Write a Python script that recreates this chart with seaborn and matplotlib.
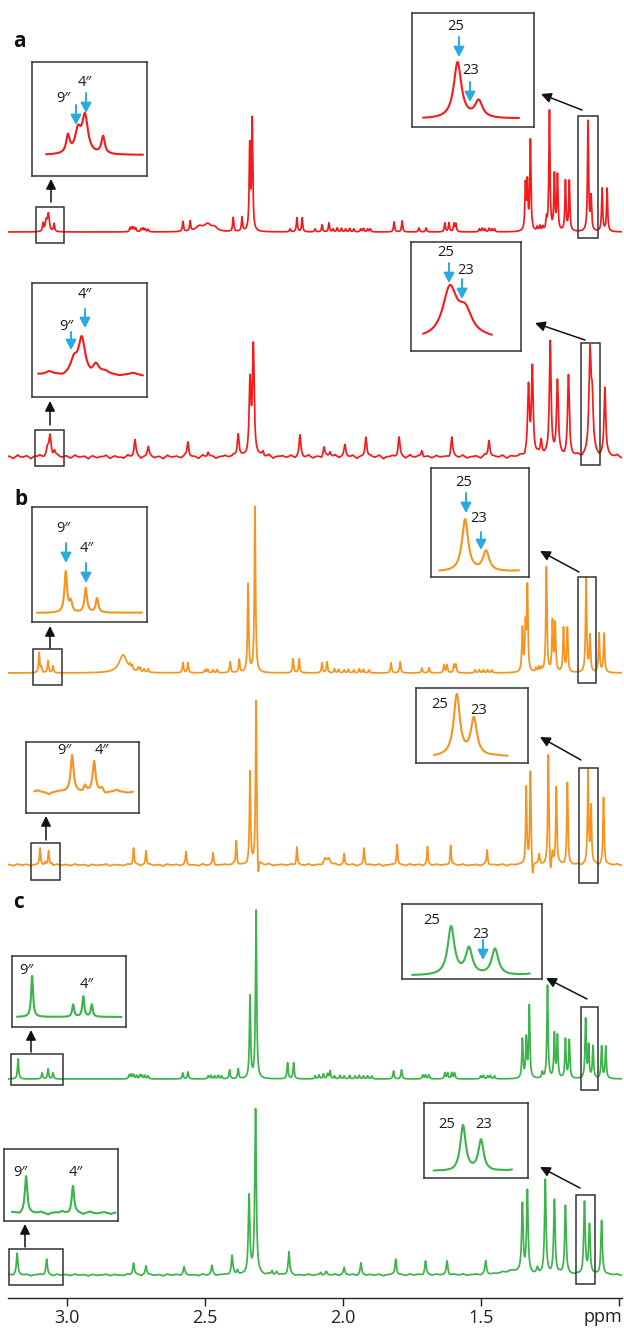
import numpy as np
import matplotlib
matplotlib.use("Agg")
import matplotlib.pyplot as plt
from matplotlib.patches import Rectangle
import seaborn as sns

sns.set_style("white")
plt.rcParams["font.family"] = ["Open Sans", "DejaVu Sans"]

W, H = 624, 1330

# ------------------------------------------------------------------ data
# peak lists: chemical shift (ppm) and intensity (arbitrary units)
a1_ppm = [3.086, 3.046,
          2.771, 2.764, 2.757, 2.750, 2.731, 2.724, 2.716, 2.705,
          2.579, 2.553, 2.397, 2.365, 2.337, 2.328,
          2.191, 2.166, 2.147, 2.100, 2.075, 2.050,
          2.035, 2.020, 2.005, 1.990, 1.975, 1.960, 1.935, 1.925, 1.910, 1.900,
          1.814, 1.785, 1.724, 1.698, 1.630, 1.615, 1.597, 1.590,
          1.505, 1.495, 1.485, 1.470, 1.460, 1.450,
          1.338, 1.331, 1.320, 1.295, 1.285, 1.275, 1.262, 1.251,
          1.233, 1.222, 1.193, 1.179, 1.111, 1.100, 1.060, 1.042]
a1_int = [8, 8,
          4, 4.5, 4, 3.5, 3, 3.5, 3, 2.5,
          10, 10, 14, 14, 84, 110,
          3, 14, 14, 3, 7, 9,
          3, 4, 3.5, 3, 3.5, 3, 3, 3.5, 3, 3,
          10, 11, 4, 4, 9, 9, 8, 8,
          3, 3.5, 3, 3.5, 3, 3,
          45, 46, 90, 4, 5, 4, 11, 120,
          55, 55, 50, 50, 110, 33, 43, 43]
a1_broad_ppm = [3.0746, 3.0666, 2.520, 2.490, 2.465]
a1_broad_int = [10, 17, 5, 7, 4]
a1_broad_fwhm = [0.008, 0.008, 0.03, 0.03, 0.025]

a2_ppm = [2.753, 2.705, 2.561, 2.488, 2.379, 2.336, 2.324, 2.289, 2.155, 2.068,
          2.046, 1.992, 1.916, 1.796, 1.713, 1.605, 1.470,
          1.327, 1.313, 1.281, 1.248, 1.222, 1.182, 1.050]
a2_int = [17, 10, 15, 5, 24, 72, 108, 5, 22, 10,
          5, 12, 21, 20, 7, 20, 17,
          68, 88, 15, 115, 74, 80, 68]
a2_broad_ppm = [3.070, 3.061, 3.045, 1.104, 1.096]
a2_broad_int = [8, 21, 6, 100, 50]
a2_broad_fwhm = [0.009, 0.009, 0.009, 0.009, 0.009]

b1_ppm = [3.100, 3.068, 3.050,
          2.771, 2.763, 2.742, 2.735, 2.720, 2.705,
          2.579, 2.561, 2.499, 2.490, 2.470, 2.455, 2.408, 2.375, 2.343, 2.318,
          2.180, 2.158, 2.075, 2.057,
          2.030, 2.015, 1.995, 1.980, 1.960, 1.940, 1.925, 1.905,
          1.825, 1.792, 1.713, 1.687, 1.633, 1.622, 1.597, 1.590,
          1.520, 1.505, 1.490, 1.475, 1.460,
          1.349, 1.338, 1.331, 1.300, 1.290, 1.280, 1.262,
          1.240, 1.230, 1.200, 1.186, 1.118, 1.104, 1.071, 1.053]
b1_int = [20, 12, 7,
          4, 4, 3.5, 4, 3, 3.5,
          10, 10, 3, 3.5, 3, 3, 11, 13, 88, 166,
          14, 14, 10, 11,
          4, 3.5, 3, 3.5, 3, 4, 3.5, 3,
          10, 11, 5, 5, 8, 8, 8, 8,
          3, 3, 3, 3, 3,
          43, 44, 84, 4, 5, 4, 105,
          50, 48, 44, 44, 94, 36, 39, 39]
b1_broad_ppm = [3.092, 2.796]
b1_broad_int = [5, 18]
b1_broad_fwhm = [0.005, 0.035]

b2_ppm = [3.097, 3.079, 3.066, 3.055, 2.758, 2.713, 2.568, 2.470, 2.386, 2.336, 2.314, 2.306,
          2.166, 1.995, 1.923, 1.803, 1.693, 1.609, 1.477,
          1.335, 1.320, 1.312, 1.288, 1.255, 1.247, 1.240, 1.226, 1.186, 1.111, 1.100, 1.055]
b2_int = [16, 3, 14, 2, 17, 14, 13, 12, 24, 92, 165, -20,
          18, 11, 17, 21, 18, 20, 15,
          77, 93, -16, 10, 110, -13, 11, 77, 82, 93, 57, 67]
b2_broad_ppm = [2.064, 2.050]
b2_broad_int = [6, 6]
b2_broad_fwhm = [0.012, 0.012]

c1_ppm = [3.1765, 3.0895, 3.068, 3.050,
          2.774, 2.766, 2.758, 2.747, 2.735, 2.727, 2.716, 2.705,
          2.580, 2.561, 2.488, 2.478, 2.465, 2.452, 2.440, 2.410, 2.379, 2.336, 2.314,
          2.200, 2.178, 2.100, 2.086, 2.070, 2.055, 2.046,
          2.030, 2.010, 1.995, 1.975, 1.955, 1.940, 1.925, 1.910, 1.895,
          1.816, 1.787, 1.710, 1.700, 1.688, 1.630, 1.620, 1.605, 1.595,
          1.500, 1.490, 1.475, 1.465, 1.450,
          1.349, 1.335, 1.324, 1.277, 1.258, 1.233, 1.222, 1.193, 1.179,
          1.120, 1.109, 1.093, 1.062, 1.047]
c1_int = [20, 6, 10, 6,
          4, 4.5, 4, 3.5, 4, 3.5, 3.5, 3,
          6, 7, 3, 3.5, 3, 3.5, 3, 9, 10, 82, 168,
          16, 16, 3, 4, 5, 5, 8,
          3, 3.5, 3, 3.5, 3, 3.5, 3, 3, 3,
          8, 9, 4, 4, 4, 6, 6, 6, 6,
          3, 3.5, 3, 3.5, 3,
          39, 39, 72, 6, 93, 44, 42, 39, 38,
          59, 32, 32, 32, 32]

c2_ppm = [3.180, 3.073, 2.758, 2.713, 2.575, 2.474, 2.401, 2.381, 2.3395, 2.316,
          2.256, 2.240, 2.195, 2.080, 2.060,
          1.995, 1.934, 1.808, 1.700, 1.622, 1.482,
          1.349, 1.331, 1.295, 1.266, 1.233, 1.193, 1.124, 1.106, 1.062]
c2_int = [21, 16, 12, 9, 8, 9, 19, 5, 78, 165,
          4, 3, 23, 3, 3,
          7, 12, 16, 14, 14, 13,
          68, 82, 5, 94, 74, 69, 72, 49, 54]
c2_broad_ppm = [1.39]
c2_broad_int = [4]
c2_broad_fwhm = [0.08]

# baseline noise read as small up/down wiggles along the trace
noise = [0.4, -0.7, 0.9, -0.2, 0.6, -0.9, 0.3, 0.8, -0.5, 0.1, -0.8, 0.7, -0.3, 0.5, -0.6, 0.9, -0.1, 0.4, -0.9, 0.6,
         -0.4, 0.2, 0.8, -0.7, 0.5, -0.2, -0.6, 0.9, -0.3, 0.7, -0.8, 0.1, 0.6, -0.5, 0.3, -0.9, 0.8, -0.1, 0.4, -0.6,
         0.7, -0.3, 0.2, -0.8, 0.9, -0.4, 0.5, -0.7, 0.1, 0.6, -0.2, 0.8, -0.9, 0.3, -0.5, 0.7, -0.1, 0.4, -0.6, 0.9,
         -0.8, 0.2, 0.5, -0.3, 0.7, -0.7, 0.1, -0.4, 0.8, -0.6, 0.3, -0.9, 0.6, -0.2, 0.9, -0.5, 0.4, -0.1, 0.7, -0.8,
         0.2, -0.6, 0.5, -0.3, 0.8, -0.9, 0.1, 0.6, -0.4, 0.3, -0.7, 0.9, -0.2, 0.5, -0.8, 0.4, -0.5, 0.7, -0.1, 0.2,
         -0.9, 0.6, -0.3, 0.8, -0.6, 0.1, 0.5, -0.7, 0.9, -0.4, 0.3, -0.2, 0.7, -0.8, 0.4, -0.1, 0.6, -0.9, 0.2, -0.5,
         0.8, -0.3, 0.5, -0.6, 0.1, 0.9, -0.7, 0.4, -0.2, 0.6, -0.8, 0.3, -0.4, 0.7, -0.9, 0.2, 0.5, -0.1, 0.8, -0.6]

x_ticks = [3.0, 2.5, 2.0, 1.5, 1.0]
x_tick_labels = ["3.0", "2.5", "2.0", "1.5", ""]
panel_labels = ["a", "b", "c"]

for p, i in [(a1_ppm, a1_int), (a2_ppm, a2_int), (b1_ppm, b1_int), (b2_ppm, b2_int),
             (c1_ppm, c1_int), (c2_ppm, c2_int)]:
    assert len(p) == len(i), (len(p), len(i))

# ------------------------------------------------------------------ build traces
grid = np.linspace(3.215, 0.985, 13000)


def lorentz_sum(x, ppm, inten, fwhm):
    ppm = np.asarray(ppm, float)
    inten = np.asarray(inten, float)
    hw = np.broadcast_to(np.asarray(fwhm, float), ppm.shape) / 2.0
    return (inten[None, :] / (1 + ((x[:, None] - ppm[None, :]) / hw[None, :]) ** 2)).sum(axis=1)


noise_ppm = np.linspace(3.21, 0.99, len(noise))

RED, ORANGE, GREEN = "#f61b1b", "#f7931e", "#3cb44b"
BLUE, BOXC = "#29abe2", "#333333"

y_a1 = lorentz_sum(grid, a1_ppm, a1_int, 0.0048) + lorentz_sum(grid, a1_broad_ppm, a1_broad_int, a1_broad_fwhm)
y_a2 = (lorentz_sum(grid, a2_ppm, a2_int, 0.0075) + lorentz_sum(grid, a2_broad_ppm, a2_broad_int, a2_broad_fwhm)
        + lorentz_sum(grid, noise_ppm, np.array(noise) * 2.3, 0.009))
y_b1 = lorentz_sum(grid, b1_ppm, b1_int, 0.005) + lorentz_sum(grid, b1_broad_ppm, b1_broad_int, b1_broad_fwhm)
y_b2 = (lorentz_sum(grid, b2_ppm, b2_int, 0.0048) + lorentz_sum(grid, b2_broad_ppm, b2_broad_int, b2_broad_fwhm)
        + lorentz_sum(grid, noise_ppm, np.array(noise) * 1.3, 0.007))
y_c1 = lorentz_sum(grid, c1_ppm, c1_int, 0.005)
y_c2 = (lorentz_sum(grid, c2_ppm, c2_int, 0.0065) + lorentz_sum(grid, c2_broad_ppm, c2_broad_int, c2_broad_fwhm)
        + lorentz_sum(grid, noise_ppm, np.array(noise) * 1.2, 0.007))

# layout (pixels): baseline, insets (rect, curve span, ppm window, base/top fractions)
specs = [
    dict(y=y_a1, color=RED, base=232, insets=[
        dict(rect=(32, 147, 62, 176), curve=(46, 143), ppm=(3.111, 3.0005), b=0.184, t=0.553),
        dict(rect=(412, 534, 13, 127), curve=(423, 519), ppm=(1.129, 1.079), b=0.070, t=0.570)]),
    dict(y=y_a2, color=RED, base=457, insets=[
        dict(rect=(32, 147, 283, 397), curve=(38, 143), ppm=(3.111, 2.991), b=0.193, t=0.535),
        dict(rect=(411, 521, 242, 351), curve=(423, 492), ppm=(1.118, 1.082), b=0.101, t=0.606)]),
    dict(y=y_b1, color=ORANGE, base=673, insets=[
        dict(rect=(32, 147, 507, 622), curve=(37, 142), ppm=(3.146, 2.978), b=0.078, t=0.443),
        dict(rect=(431, 529, 468, 577), curve=(439, 519), ppm=(1.1354, 1.082), b=0.046, t=0.532)]),
    dict(y=y_b2, color=ORANGE, base=865, insets=[
        dict(rect=(26, 139, 742, 813), curve=(34, 133), ppm=(3.151, 3.011), b=0.296, t=0.817),
        dict(rect=(416, 528, 688, 763), curve=(433.5, 508), ppm=(1.126, 1.078), b=0.08, t=0.92)]),
    dict(y=y_c1, color=GREEN, base=1079, insets=[
        dict(rect=(12, 126, 956, 1027), curve=(17, 121.5), ppm=(3.2085, 2.987), b=0.141, t=0.718),
        dict(rect=(402, 542, 904, 979), curve=(412, 530), ppm=(1.144, 1.0715), b=0.04, t=0.707)]),
    dict(y=y_c2, color=GREEN, base=1275, insets=[
        dict(rect=(4, 118, 1149, 1221), curve=(12, 115.5), ppm=(3.212, 2.976), b=0.111, t=0.625),
        dict(rect=(424, 528, 1103, 1178), curve=(433.5, 512), ppm=(1.1535, 1.075), b=0.08, t=0.707)]),
]

boxes = [(36, 64, 207, 243), (578, 598, 116, 238),
         (35, 64, 430, 466), (581, 600, 343, 465),
         (33, 62, 649, 685), (578, 596, 577, 683),
         (31, 60, 843, 880), (579, 598, 768, 883),
         (11, 63, 1054, 1085), (581, 598, 1007, 1090),
         (9, 63, 1249, 1285), (576, 595, 1195, 1284)]
black_arrows = [((51, 202), (51, 179)), ((582, 110), (541, 94)),
                ((50, 425), (50, 401)), ((585, 340), (535, 323)),
                ((50, 648), (50, 626)), ((579, 572), (540, 551)),
                ((46, 840), (46, 816)), ((581, 760), (540, 737)),
                ((31, 1052), (31, 1030)), ((587, 999), (546, 978)),
                ((25, 1247), (25, 1224)), ((580, 1188), (540, 1167))]
P2 = "9\u2033"
P4 = "4\u2033"
inset_texts = [(P2, 63, 98), (P4, 85, 83), ("25", 456, 26), ("23", 471, 71),
               (P4, 85, 295), (P2, 66, 327), ("25", 446, 253), ("23", 466, 271),
               (P2, 63, 528), (P4, 87, 548), ("25", 464, 483), ("23", 479, 518),
               (P2, 64, 750), (P4, 102, 750), ("25", 440, 704), ("23", 479, 711),
               (P2, 26, 970), (P4, 87, 985), ("25", 432, 921), ("23", 481, 935),
               (P2, 20, 1172), (P4, 76, 1172), ("25", 447, 1125), ("23", 484, 1124)]
blue_arrows = [(76, 105, 125), (86, 93, 113), (459, 37, 57), (470, 82, 102),
               (85, 309, 328), (71, 332, 350), (449, 263, 283), (462, 279, 299),
               (66, 543, 563), (86, 563, 583), (466, 493, 513), (481, 532, 550),
               (483, 940, 960)]
panel_pos = [(13, 47), (14, 505), (13, 908)]

# ------------------------------------------------------------------ draw
fig = plt.figure(figsize=(W / 100, H / 100), dpi=100)
fig.patch.set_facecolor("white")


def rect_px(x0, x1, y0, y1):
    return [x0 / W, 1 - y1 / H, (x1 - x0) / W, (y1 - y0) / H]


AX_X0, AX_X1, AX_Y1 = 8, 622, 1298
XL = (3.213, 0.988)

for k, s in enumerate(specs):
    ax = fig.add_axes(rect_px(AX_X0, AX_X1, 0, AX_Y1))
    ax.patch.set_alpha(0)
    sns.lineplot(x=grid, y=s["y"], ax=ax, color=s["color"], linewidth=1.25,
                 estimator=None, sort=False, errorbar=None)
    ax.set_xlim(*XL)
    ax.set_ylim(s["base"] - AX_Y1, s["base"])
    ax.set_xlabel("")
    ax.set_ylabel("")
    ax.set_yticks([])
    for sp in ["left", "right", "top"]:
        ax.spines[sp].set_visible(False)
    if k == len(specs) - 1:
        ax.spines["bottom"].set_color("#222222")
        ax.spines["bottom"].set_linewidth(1.0)
        ax.set_xticks(x_ticks)
        ax.set_xticklabels(x_tick_labels)
        ax.tick_params(axis="x", direction="out", length=6, width=1.0, colors="#222222",
                       labelsize=13, pad=2, bottom=True)
    else:
        ax.spines["bottom"].set_visible(False)
        ax.set_xticks([])

for s in specs:
    for ins in s["insets"]:
        x0, x1, y0, y1 = ins["rect"]
        cx0, cx1 = ins["curve"]
        phi, plo = ins["ppm"]
        sc = (phi - plo) / (cx1 - cx0)
        xl = (phi + (cx0 - x0) * sc, plo - (x1 - cx1) * sc)
        m = (grid <= phi) & (grid >= plo)
        yy = s["y"][m]
        R = yy.max() / (ins["t"] - ins["b"])
        iax = fig.add_axes(rect_px(x0, x1, y0, y1))
        iax.set_facecolor("white")
        sns.lineplot(x=grid[m], y=yy, ax=iax, color=s["color"], linewidth=1.5,
                     estimator=None, sort=False, errorbar=None)
        iax.set_xlim(*xl)
        iax.set_ylim(-ins["b"] * R, (1 - ins["b"]) * R)
        iax.set_xticks([])
        iax.set_yticks([])
        iax.set_xlabel("")
        iax.set_ylabel("")
        for sp in iax.spines.values():
            sp.set_visible(True)
            sp.set_color(BOXC)
            sp.set_linewidth(1.1)

ov = fig.add_axes([0, 0, 1, 1])
ov.set_xlim(0, W)
ov.set_ylim(H, 0)
ov.axis("off")
ov.patch.set_alpha(0)

for (x0, x1, y0, y1) in boxes:
    ov.add_patch(Rectangle((x0, y0), x1 - x0, y1 - y0, fill=False, ec=BOXC, lw=1.1))
for (start, end) in black_arrows:
    ov.annotate("", xy=end, xytext=start,
                arrowprops=dict(arrowstyle="-|>,head_length=0.6,head_width=0.3", color="#111111",
                                lw=1.1, shrinkA=0, shrinkB=0, mutation_scale=10))
for (x, ys, ye) in blue_arrows:
    ov.annotate("", xy=(x, ye), xytext=(x, ys),
                arrowprops=dict(arrowstyle="-|>,head_length=0.6,head_width=0.32", color=BLUE,
                                lw=1.4, shrinkA=0, shrinkB=0, mutation_scale=10))
for (txt, x, y) in inset_texts:
    ov.text(x, y, txt, ha="center", va="center", fontsize=10.5, color="#1a1a1a")
for lab, (x, y) in zip(panel_labels, panel_pos):
    ov.text(x, y, lab, ha="left", va="baseline", fontsize=15, fontweight="bold", color="#111111")
ov.text(603, 1308, "ppm", ha="center", va="top", fontsize=13, color="#222222")

fig.savefig("out.png", dpi=100, facecolor="white")
